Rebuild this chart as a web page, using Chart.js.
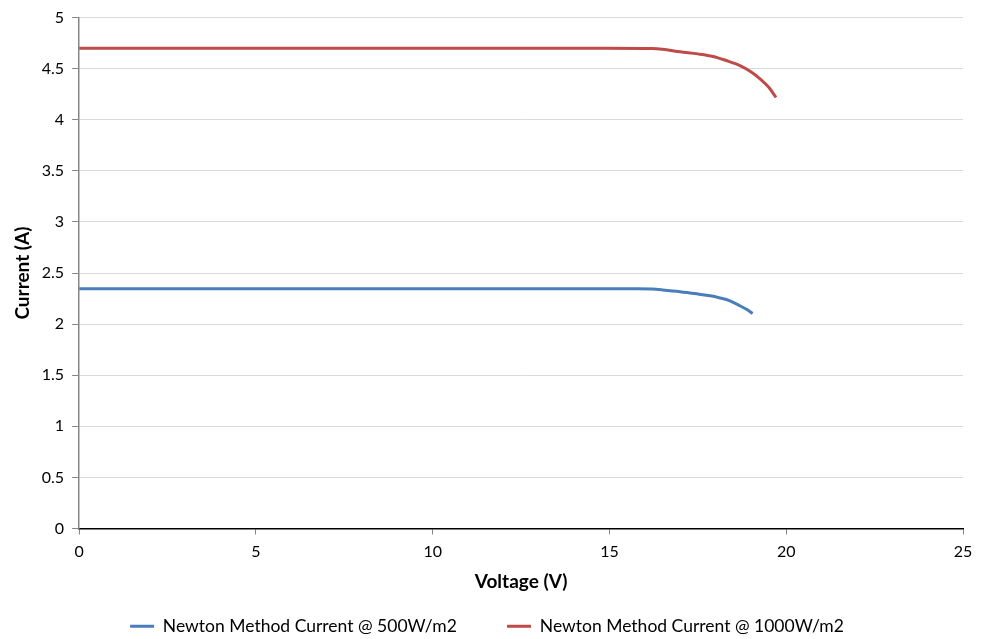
<!DOCTYPE html>
<html><head><meta charset="utf-8">
<script src="https://cdn.jsdelivr.net/npm/chart.js@4"></script>
<style>html,body{margin:0;padding:0;background:#fff}#wrap{width:981px;height:639px}</style>
</head><body><div id="wrap"><canvas id="c"></canvas></div>
<script>
const seriesNames = ['Newton Method Current @ 500W/m2', 'Newton Method Current @ 1000W/m2'];
const voltage500 = [0, 2, 4, 6, 8, 10, 12, 14, 15.8, 16.2, 16.5, 17.0, 17.5, 17.85, 18.1, 18.41, 18.69, 18.9, 19.05];
const current500 = [2.347, 2.347, 2.347, 2.347, 2.347, 2.347, 2.347, 2.347, 2.347, 2.343, 2.335, 2.318, 2.295, 2.277, 2.258, 2.228, 2.18, 2.14, 2.104];
const voltage1000 = [0, 2, 4, 6, 8, 10, 12, 14, 14.9, 16.2, 16.5, 17.0, 17.5, 17.93, 18.3, 18.69, 19.0, 19.26, 19.5, 19.71];
const current1000 = [4.70, 4.70, 4.70, 4.70, 4.70, 4.70, 4.70, 4.70, 4.70, 4.697, 4.69, 4.665, 4.645, 4.62, 4.58, 4.53, 4.47, 4.40, 4.32, 4.22];
const xTicks = [0, 5, 10, 15, 20, 25];
const yTicks = [0, 0.5, 1, 1.5, 2, 2.5, 3, 3.5, 4, 4.5, 5];

const toPts = (xs, ys) => xs.map((x, i) => ({x, y: ys[i]}));
const font = "Lato, 'Open Sans', sans-serif";

new Chart(document.getElementById('c'), {
  type: 'scatter',
  data: {
    datasets: [
      {label: seriesNames[0], data: toPts(voltage500, current500), showLine: true, borderColor: '#4a7ebb', backgroundColor: '#4a7ebb', borderWidth: 3, pointRadius: 0, cubicInterpolationMode: 'monotone'},
      {label: seriesNames[1], data: toPts(voltage1000, current1000), showLine: true, borderColor: '#be4b48', backgroundColor: '#be4b48', borderWidth: 3, pointRadius: 0, cubicInterpolationMode: 'monotone'}
    ]
  },
  options: {
    responsive: true, maintainAspectRatio: false, animation: false,
    layout: {padding: {left: 11, right: 18, top: -5, bottom: -6}},
    plugins: {
      tooltip: {enabled: false},
      legend: {position: 'bottom', labels: {
        boxWidth: 24, boxHeight: 0, padding: 24, color: '#000', font: {family: font, size: 17.5},
        generateLabels: chart => {
          const items = Chart.defaults.plugins.legend.labels.generateLabels(chart);
          items.forEach((it, i) => { if (i < items.length - 1) it.text = it.text + '\u2002\u2002\u2002'; });
          return items;
        }
      }}
    },
    scales: {
      x: {
        type: 'linear', min: 0, max: 25,
        afterBuildTicks: a => { a.ticks = xTicks.map(v => ({value: v})); },
        grid: {drawOnChartArea: false, tickColor: '#868686', tickLength: 6},
        border: {color: '#000', width: 1.5},
        ticks: {color: '#000', font: {family: font, size: 16}, padding: 8, callback: v => String(v)},
        title: {display: true, text: 'Voltage (V)', color: '#000', font: {family: font, size: 19, weight: 'bold'}, padding: {top: 1, bottom: 0}}
      },
      y: {
        min: 0, max: 5,
        afterBuildTicks: a => { a.ticks = yTicks.map(v => ({value: v})); },
        grid: {color: '#d9d9d9', tickColor: '#868686', tickLength: 7},
        border: {color: '#868686', width: 1.5},
        ticks: {color: '#000', font: {family: font, size: 16}, padding: 8, callback: v => String(v)},
        title: {display: true, text: 'Current (A)', color: '#000', font: {family: font, size: 19, weight: 'bold'}, padding: {top: 0, bottom: 0}}
      }
    }
  }
});
</script></body></html>
